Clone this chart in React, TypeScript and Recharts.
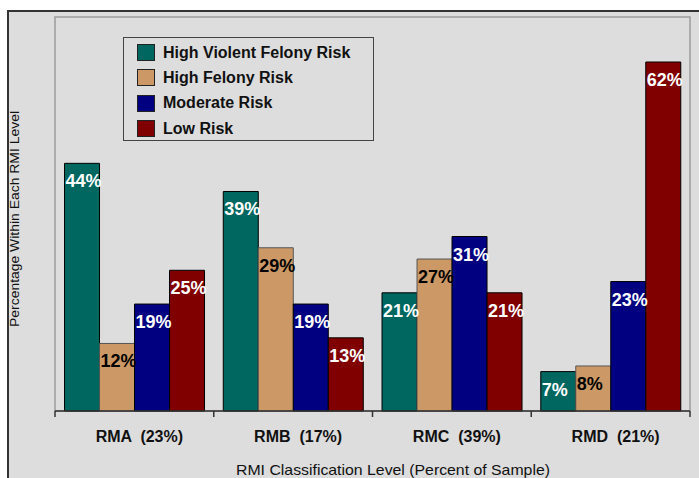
import { BarChart, Bar, XAxis, YAxis, Legend, LabelList, ReferenceArea } from "recharts";

const categories = ["RMA  (23%)", "RMB  (17%)", "RMC  (39%)", "RMD  (21%)"];
const highViolent = [44, 39, 21, 7];
const highFelony = [12, 29, 27, 8];
const moderate = [19, 19, 31, 23];
const low = [25, 13, 21, 62];

const series = [
  { key: "hv", name: "High Violent Felony Risk", color: "#006660", edge: "#000", text: "#fff" },
  { key: "hf", name: "High Felony Risk", color: "#cc9966", edge: "#555", text: "#000" },
  { key: "mod", name: "Moderate Risk", color: "#000080", edge: "#000", text: "#fff" },
  { key: "low", name: "Low Risk", color: "#800000", edge: "#000", text: "#fff" },
];

const data = categories.map((cat, i) => ({
  cat,
  hv: highViolent[i],
  hf: highFelony[i],
  mod: moderate[i],
  low: low[i],
}));

const FONT = "'Liberation Sans', Arial, sans-serif";

// tick marks sit on the category boundaries, not the centres
const CategoryTick = ({ x, y, payload, index, visibleTicksCount }: any) => {
  const half = payload.offset || 0;
  const last = index === visibleTicksCount - 1;
  return (
    <g>
      <line x1={x - half} x2={x - half} y1={y} y2={y + 6} stroke="#333" strokeWidth={1.5} />
      {last && <line x1={x + half} x2={x + half} y1={y} y2={y + 6} stroke="#333" strokeWidth={1.5} />}
      <text
        x={x + 5}
        y={y + 31}
        textAnchor="middle"
        fontSize={16}
        fontWeight="bold"
        fill="#111"
        style={{ whiteSpace: "pre" }}
      >
        {payload.value}
      </text>
    </g>
  );
};

const barLabel = (color: string) => (props: any) => {
  const { x, y, value } = props;
  return (
    <text x={x + 1} y={y + 24} fill={color} fontSize={18} fontWeight="bold">
      {value}%
    </text>
  );
};

const LegendBox = () => (
  <div
    style={{
      width: 251,
      height: 104,
      boxSizing: "border-box",
      border: "1px solid #444",
      paddingTop: 2,
      fontFamily: FONT,
    }}
  >
    {series.map((s) => (
      <div key={s.key} style={{ display: "flex", alignItems: "center", height: 25.3 }}>
        <div
          style={{
            width: 18,
            height: 17,
            marginLeft: 13,
            boxSizing: "border-box",
            border: "1px solid #222",
            background: s.color,
          }}
        />
        <span style={{ marginLeft: 8, fontSize: 16, fontWeight: "bold", color: "#111", lineHeight: 1 }}>
          {s.name}
        </span>
      </div>
    ))}
  </div>
);

export default function App() {
  return (
    <div style={{ fontFamily: FONT }}>
      <div
        style={{
          position: "absolute",
          left: 7,
          top: 10,
          width: 692,
          height: 468,
          boxSizing: "border-box",
          borderLeft: "2px solid #333",
          borderTop: "2px solid #333",
          background: "#dddddd",
        }}
      />
      <div style={{ position: "absolute", left: 0, top: 0 }}>
        <BarChart
          width={699}
          height={478}
          data={data}
          margin={{ top: 17, right: 9, bottom: 0, left: 55 }}
          barGap={0}
          barCategoryGap="6%"
          style={{ fontFamily: FONT }}
        >
          <YAxis hide domain={[0, 70]} />
          <ReferenceArea y1={0} y2={70} fill="none" stroke="#9c9c9c" strokeWidth={1.5} ifOverflow="visible" />
          <XAxis
            dataKey="cat"
            height={67}
            axisLine={{ stroke: "#333", strokeWidth: 1.5 }}
            tickLine={false}
            tickSize={0}
            tickMargin={0}
            interval={0}
            tick={<CategoryTick />}
          />
          <Legend
            layout="vertical"
            align="center"
            verticalAlign="middle"
            wrapperStyle={{ left: 123, top: 37, width: 251, height: 104 }}
            content={() => <LegendBox />}
          />
          {series.map((s) => (
            <Bar
              key={s.key}
              dataKey={s.key}
              name={s.name}
              fill={s.color}
              stroke={s.edge}
              strokeWidth={1}
              isAnimationActive={false}
            >
              <LabelList dataKey={s.key} content={barLabel(s.text)} />
            </Bar>
          ))}
          <text
            x={393}
            y={475}
            textAnchor="middle"
            fontSize={14.5}
            fill="#111"
            textLength={314}
            lengthAdjust="spacingAndGlyphs"
          >
            RMI Classification Level (Percent of Sample)
          </text>
          <text
            x={19}
            y={219}
            transform="rotate(-90 19 219)"
            textAnchor="middle"
            fontSize={13}
            fill="#111"
            textLength={216}
            lengthAdjust="spacingAndGlyphs"
          >
            Percentage Within Each RMI Level
          </text>
        </BarChart>
      </div>
    </div>
  );
}
